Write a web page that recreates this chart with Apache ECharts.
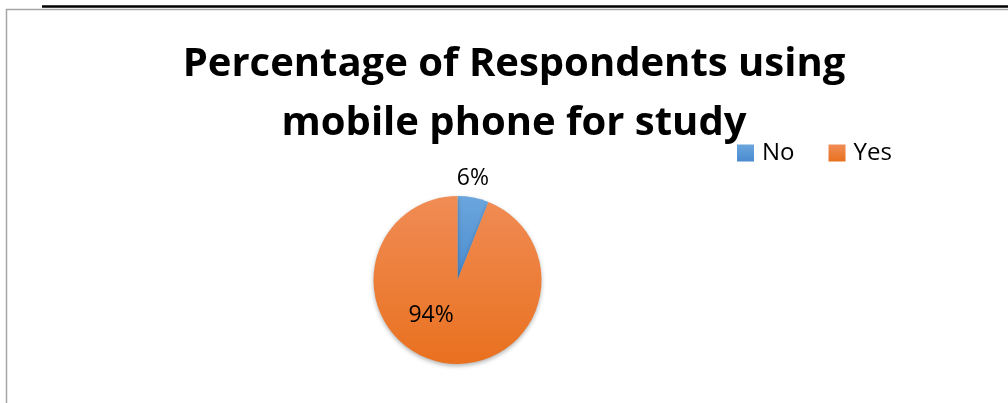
<!DOCTYPE html>
<html>
<head>
<meta charset="utf-8">
<script src="https://cdn.jsdelivr.net/npm/echarts@6/dist/echarts.min.js"></script>
<style>
html,body{margin:0;padding:0;background:#fff;}
#chart{width:1008px;height:403px;}
</style>
</head>
<body>
<div id="chart"></div>
<script>
const titleText = 'Percentage of Respondents using\nmobile phone for study';
const categories = ['No', 'Yes'];
const values = [6, 94];
const colorsTop = ['#6BA6DD', '#F08C55'];
const colorsBottom = ['#4A8BCF', '#E9711F'];

function grad(i) {
  return new echarts.graphic.LinearGradient(0, 0, 0, 1, [
    {offset: 0, color: colorsTop[i]},
    {offset: 1, color: colorsBottom[i]}
  ]);
}

const chart = echarts.init(document.getElementById('chart'));
const fontFam = '"Open Sans", "Noto Sans", sans-serif';
chart.setOption({
  animation: false,
  title: {
    text: titleText,
    left: 509,
    textAlign: 'center',
    top: 30,
    textStyle: {fontFamily: fontFam, fontWeight: 'bold', fontSize: 40, color: '#000', lineHeight: 59}
  },
  legend: {
    data: categories,
    left: 737,
    top: 141,
    padding: 0,
    itemWidth: 17,
    itemHeight: 17,
    itemGap: 34,
    icon: 'rect',
    textStyle: {fontFamily: fontFam, fontSize: 24, color: '#000', padding: [0, 0, 0, 3]}
  },
  graphic: [
    {type: 'line', shape: {x1: 42, y1: 6.5, x2: 1008, y2: 6.5}, style: {stroke: '#000', lineWidth: 2.5}},
    {type: 'polyline', shape: {points: [[6.5, 403], [6.5, 9.5], [1008, 9.5]]}, style: {stroke: '#a6a6a6', lineWidth: 1.5, fill: null}}
  ],
  series: [{
    type: 'pie',
    center: [457.5, 280],
    radius: 84,
    startAngle: 90,
    clockwise: true,
    silent: true,
    data: categories.map((c, i) => ({
      name: c,
      value: values[i],
      itemStyle: {color: grad(i)}
    })),
    label: {show: true, position: 'inside', formatter: '{d}%', fontFamily: fontFam, fontSize: 23, color: '#000'},
    labelLine: {show: false},
    labelLayout: function (p) {
      return p.dataIndex === 0 ? {dx: 7, dy: -57} : {dx: -18, dy: -9};
    },
    itemStyle: {shadowBlur: 4, shadowColor: 'rgba(0,0,0,0.3)', shadowOffsetY: 2}
  }]
});
</script>
</body>
</html>
